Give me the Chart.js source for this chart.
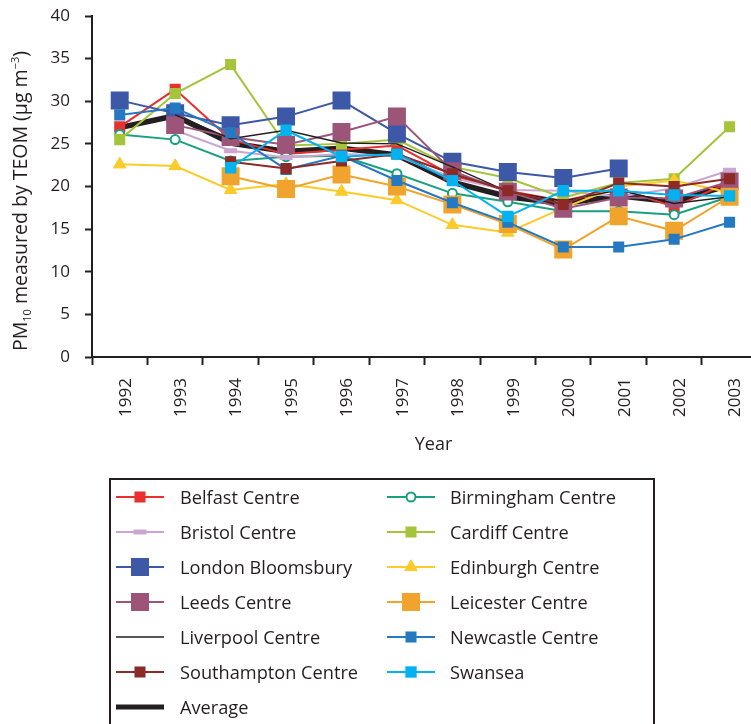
<!DOCTYPE html>
<html>
<head>
<meta charset="utf-8">
<script src="https://cdn.jsdelivr.net/npm/chart.js@4/dist/chart.umd.min.js"></script>
<style>
  html, body { margin: 0; padding: 0; background: #fff; overflow: hidden; }
  #wrap { width: 770px; height: 724px; }
</style>
</head>
<body>
<div id="wrap"><canvas id="c" width="770" height="724"></canvas></div>
<script>
// Annual mean PM10 (TEOM), µg m-3, by monitoring site
const years = ['1992', '1993', '1994', '1995', '1996', '1997', '1998', '1999', '2000', '2001', '2002', '2003'];
const yTicks = [0, 5, 10, 15, 20, 25, 30, 35, 40];

const belfast     = [27.0, 31.4, 25.5, 23.8, 24.3, 24.8, 21.3, 19.5, 18.3, 19.8, 17.6, 20.5];
const birmingham  = [26.1, 25.5, 23.0, 23.5, 23.6, 21.5, 19.2, 18.2, 17.1, 17.1, 16.7, 18.8];
const bristol     = [null, 26.6, 24.2, 23.4, 23.8, 23.6, 21.0, 19.6, 19.5, 18.8, 19.8, 21.9];
const cardiff     = [25.5, 30.9, 34.3, 24.8, 25.0, 25.5, 22.3, 21.0, 18.7, 20.4, 20.9, 27.0];
const london      = [30.1, 28.6, 27.2, 28.2, 30.1, 26.2, 22.9, 21.7, 21.0, 22.1, null, null];
const edinburgh   = [22.6, 22.4, 19.6, 20.3, 19.4, 18.4, 15.5, 14.6, 17.5, 20.0, 20.7, 19.3];
const leeds       = [null, 27.2, 25.8, 24.9, 26.4, 28.2, 21.8, 19.4, 17.4, 18.7, 18.6, 20.6];
const leicester   = [null, null, 21.2, 19.7, 21.4, 20.0, 17.9, 15.6, 12.6, 16.5, 14.8, 18.8];
const liverpool   = [null, 28.4, 25.6, 26.6, 25.1, 25.0, 22.3, 19.4, 18.3, 19.6, 18.0, 18.8];
const newcastle   = [28.4, 29.2, 26.3, 22.0, 23.6, 20.7, 18.1, 15.8, 12.9, 12.9, 13.8, 15.8];
const southampton = [null, null, 22.9, 22.1, 23.0, 23.8, 21.5, 19.5, 17.9, 20.4, 20.0, 20.9];
const swansea     = [null, null, 22.2, 26.6, 23.5, 23.8, 20.7, 16.5, 19.5, 19.5, 19.0, 18.9];
const average     = [26.9, 28.3, 25.1, 24.1, 24.5, 23.7, 20.5, 18.8, 18.0, 18.9, 18.2, 20.2];

const siteNames = ['Belfast Centre', 'Birmingham Centre', 'Bristol Centre', 'Cardiff Centre',
  'London Bloomsbury', 'Edinburgh Centre', 'Leeds Centre', 'Leicester Centre',
  'Liverpool Centre', 'Newcastle Centre', 'Southampton Centre', 'Swansea', 'Average'];
const siteValues = [belfast, birmingham, bristol, cardiff, london, edinburgh, leeds,
  leicester, liverpool, newcastle, southampton, swansea, average];

// Line / marker appearance for each site, same order as siteNames
const siteStyles = [
  { color: '#e8302e', point: 'rect', r: 7.8 },
  { color: '#19a081', point: 'circle', r: 4.5, hollow: true },
  { color: '#cba6d1', point: 'line', r: 6.5, bw: 5 },
  { color: '#a5c43b', point: 'rect', r: 7.8 },
  { color: '#3c58a6', point: 'rect', r: 12.7 },
  { color: '#fccb2a', point: 'triangle', r: 7.2, bw: 1 },
  { color: '#9d5479', point: 'rect', r: 12.7 },
  { color: '#f0a42d', point: 'rect', r: 12.7 },
  { color: '#231f20', point: false, r: 0, lw: 1.5 },
  { color: '#2579c1', point: 'rect', r: 7.8 },
  { color: '#8b2a26', point: 'rect', r: 7.8 },
  { color: '#00b2ef', point: 'rect', r: 8 },
  { color: '#231f20', point: false, r: 0, lw: 5.5, legendLw: 5 }
];

const INK = '#231f20';
const FAMILY = '"Open Sans", "Noto Sans", "DejaVu Sans", sans-serif';

const n = siteNames.length;
const datasets = siteNames.map((name, i) => {
  const s = siteStyles[i];
  return {
    label: name,
    data: siteValues[i],
    borderColor: s.color,
    backgroundColor: s.color,
    borderWidth: s.lw || 2,
    tension: 0,
    fill: false,
    spanGaps: false,
    pointStyle: s.point,
    pointRadius: s.r,
    pointHoverRadius: s.r,
    pointBackgroundColor: s.hollow ? '#ffffff' : s.color,
    pointBorderColor: s.color,
    pointBorderWidth: s.hollow ? 2 : (s.bw || 0),
    // the average sits underneath, later sites are drawn over earlier ones
    order: i === n - 1 ? n + 1 : n - i
  };
});

// Axis titles and the two-column key are drawn on top of the chart
const decorations = {
  id: 'decorations',
  afterDraw(chart) {
    const ctx = chart.ctx;
    ctx.save();
    ctx.fillStyle = INK;
    ctx.textBaseline = 'alphabetic';

    // y-axis title with sub/superscripts
    const parts = [
      { t: 'PM', size: 19.5, dy: 0 },
      { t: '10', size: 11, dy: 4 },
      { t: ' measured by TEOM (µg m', size: 19.5, dy: 0 },
      { t: '\u22123', size: 11, dy: -8 },
      { t: ')', size: 19.5, dy: 0 }
    ];
    let total = 0;
    parts.forEach(p => { ctx.font = p.size + 'px ' + FAMILY; p.w = ctx.measureText(p.t).width; total += p.w; });
    ctx.translate(27, 201);
    ctx.rotate(-Math.PI / 2);
    ctx.textAlign = 'left';
    let x = -total / 2;
    parts.forEach(p => { ctx.font = p.size + 'px ' + FAMILY; ctx.fillText(p.t, x, p.dy); x += p.w; });
    ctx.setTransform(1, 0, 0, 1, 0, 0);

    // x-axis title
    ctx.font = '18px ' + FAMILY;
    ctx.textAlign = 'center';
    ctx.fillText('Year', 433.5, 450);

    // key box
    ctx.strokeStyle = INK;
    ctx.lineWidth = 2;
    ctx.strokeRect(110, 479, 544, 300);

    const colLine = [116, 387];
    const colText = [180, 450];
    ctx.textAlign = 'left';
    ctx.font = '18.2px ' + FAMILY;
    chart.data.datasets.forEach((ds, i) => {
      const s = siteStyles[i];
      const col = i % 2, row = Math.floor(i / 2);
      const y = 497 + row * 35;
      const x0 = colLine[col];
      ctx.beginPath();
      ctx.strokeStyle = s.color;
      ctx.lineWidth = s.legendLw || s.lw || 2;
      ctx.moveTo(x0, y);
      ctx.lineTo(x0 + 48, y);
      ctx.stroke();
      if (s.point) {
        ctx.fillStyle = ds.pointBackgroundColor;
        ctx.strokeStyle = ds.pointBorderColor;
        ctx.lineWidth = ds.pointBorderWidth;
        Chart.helpers.drawPoint(ctx, {
          pointStyle: s.point, radius: s.r, rotation: 0, borderWidth: ds.pointBorderWidth
        }, x0 + 24, y);
      }
      ctx.fillStyle = INK;
      ctx.fillText(ds.label, colText[col], y + 7);
    });
    ctx.restore();
  }
};

new Chart(document.getElementById('c'), {
  type: 'line',
  data: { labels: years, datasets },
  plugins: [decorations],
  options: {
    responsive: false,
    animation: false,
    devicePixelRatio: 1,
    layout: { padding: { top: 16, right: 12.7, left: 0, bottom: 0 } },
    plugins: { legend: { display: false }, tooltip: { enabled: false } },
    scales: {
      x: {
        type: 'category',
        offset: true,
        grid: { offset: true, drawOnChartArea: false, tickLength: 8, tickColor: INK, tickWidth: 2 },
        border: { color: INK, width: 2 },
        ticks: {
          color: INK, font: { family: FAMILY, size: 17 },
          minRotation: 90, maxRotation: 90, padding: 13, labelOffset: 6, autoSkip: false
        },
        afterFit(scale) { scale.height = 367; }
      },
      y: {
        min: 0, max: 40,
        afterBuildTicks(scale) { scale.ticks = yTicks.map(v => ({ value: v })); },
        grid: { drawOnChartArea: false, tickLength: 7, tickColor: INK, tickWidth: 2 },
        border: { color: INK, width: 2 },
        ticks: { color: INK, font: { family: FAMILY, size: 17 }, padding: 15 },
        afterFit(scale) { scale.width = 92; scale.paddingTop = 0; scale.paddingBottom = 0; }
      }
    }
  }
});
</script>
</body>
</html>
